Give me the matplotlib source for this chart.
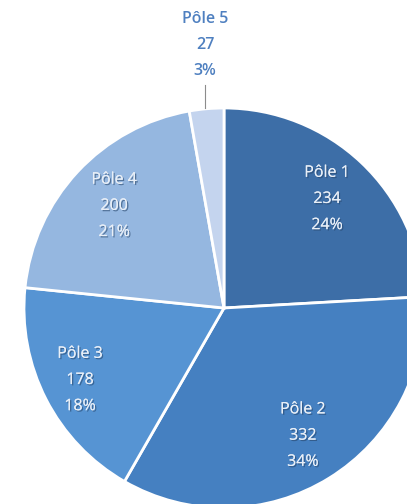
import matplotlib.pyplot as plt
import matplotlib.patheffects as pe

labels = ["Pôle 1", "Pôle 2", "Pôle 3", "Pôle 4", "Pôle 5"]
values = [234, 332, 178, 200, 27]
percents = ["24%", "34%", "18%", "21%", "3%"]
colors = ["#3d6ea7", "#4580c1", "#5694d3", "#95b7e0", "#c4d4ee"]

plt.rcParams["font.family"] = ["Open Sans", "DejaVu Sans"]

fig = plt.figure(figsize=(4.07, 5.04), dpi=100)
ax = fig.add_axes([0, 0, 1, 1])

# pie is larger than the canvas, cut on the right and bottom
center = (224, 196)
radius = 200

texts = [f"{l}\n{v}\n{p}" for l, v, p in zip(labels, values, percents)]
texts[-1] = ""
wedges, label_texts = ax.pie(
    values, colors=colors, startangle=90, counterclock=False,
    center=center, radius=radius, labels=texts, labeldistance=0.75,
    wedgeprops=dict(edgecolor="white", linewidth=2),
    textprops=dict(color="#e9eff7", fontsize=11.5, ha="center", va="center",
                   linespacing=1.85),
    frame=True,
)
ax.set_xlim(0, 407)
ax.set_ylim(0, 504)
ax.set_aspect("equal")
ax.axis("off")

for t in label_texts:
    t.set_path_effects([pe.withSimplePatchShadow(offset=(1, -1), shadow_rgbFace="#27466b", alpha=0.6),
                        pe.Normal()])
    t.set_horizontalalignment("center")

# Pôle 3 label sits a bit further out
label_texts[2].set_position((center[0] - 144, center[1] - 72))

# outside label for the small slice
ax.plot([205, 205], [419, 396], color="#8c8c8c", linewidth=0.8)
ax.text(205, 459, f"{labels[4]}\n{values[4]}\n{percents[4]}", color="#4f80c0",
        fontsize=11.5, fontweight="semibold", ha="center", va="center", linespacing=1.85)

fig.savefig("out.png", dpi=100)
